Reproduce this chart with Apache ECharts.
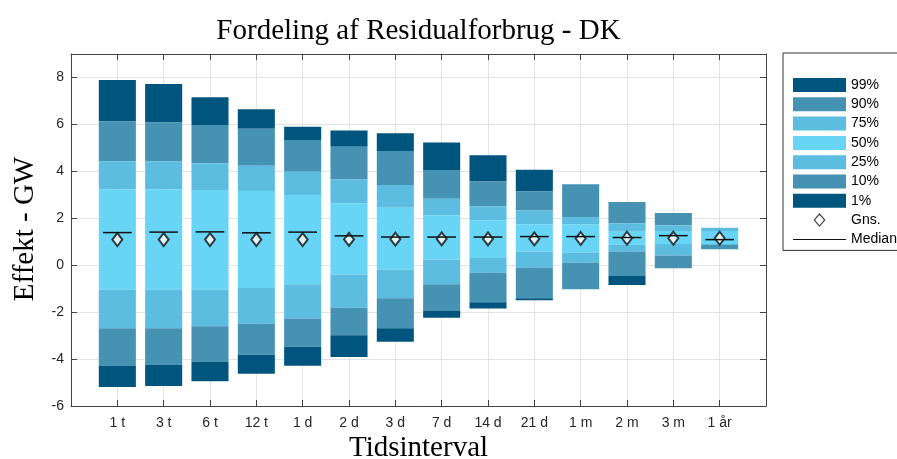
<!DOCTYPE html>
<html>
<head>
<meta charset="utf-8">
<script src="https://cdn.jsdelivr.net/npm/echarts@6/dist/echarts.min.js"></script>
<style>
  html, body { margin: 0; padding: 0; background: #fff; }
  #chart { width: 897px; height: 459px; }
</style>
</head>
<body>
<div id="chart"></div>
<script>
// tidsintervaller
const categories = ['1 t', '3 t', '6 t', '12 t', '1 d', '2 d', '3 d', '7 d', '14 d', '21 d', '1 m', '2 m', '3 m', '1 år'];

// percentil-grænser (GW)
const hi99 = [7.89, 7.72, 7.16, 6.65, 5.90, 5.74, 5.62, 5.23, 4.69, 4.07, 3.45, 2.69, 2.22, 1.60];
const hi90 = [6.13, 6.08, 5.97, 5.81, 5.33, 5.05, 4.87, 4.06, 3.57, 3.14, 3.45, 2.69, 2.22, 1.60];
const hi75 = [4.43, 4.43, 4.34, 4.24, 3.98, 3.65, 3.42, 2.83, 2.50, 2.33, 2.05, 1.79, 1.69, 1.60];
const hi50 = [3.24, 3.24, 3.20, 3.16, 2.99, 2.64, 2.45, 2.13, 1.92, 1.75, 1.73, 1.43, 1.46, 1.46];
const lo50 = [-1.05, -1.05, -1.05, -0.97, -0.81, -0.40, -0.19, 0.24, 0.31, 0.58, 0.54, 0.87, 0.90, 0.90];
const lo25 = [-2.69, -2.69, -2.60, -2.49, -2.27, -1.81, -1.41, -0.81, -0.32, -0.10, 0.10, 0.58, 0.41, 0.86];
const lo10 = [-4.28, -4.24, -4.11, -3.82, -3.48, -2.99, -2.69, -1.93, -1.58, -1.41, -1.02, -0.46, -0.13, 0.68];
const lo1 = [-5.19, -5.15, -4.95, -4.63, -4.28, -3.91, -3.26, -2.24, -1.84, -1.49, -1.02, -0.84, -0.13, 0.68];

const mean = [1.09, 1.09, 1.09, 1.09, 1.09, 1.10, 1.11, 1.12, 1.12, 1.12, 1.14, 1.15, 1.15, 1.15];
const median = [1.39, 1.41, 1.42, 1.38, 1.41, 1.25, 1.20, 1.20, 1.20, 1.22, 1.22, 1.18, 1.26, 1.09];

const yTicks = [-6, -4, -2, 0, 2, 4, 6, 8];

const DARK = '#00557f';
const MID = '#4592b3';
const LIGHT = '#5dbde1';
const LIGHTEST = '#69d5f6';

const BAR_HALF = 0.4;
const MED_HALF = 0.31;

const chart = echarts.init(document.getElementById('chart'), null, { renderer: 'canvas' });

const band = (name, color, lo, hi) => ({
  name: name,
  type: 'custom',
  itemStyle: { color: color },
  encode: { x: 0, y: [1, 2] },
  data: categories.map((c, i) => [i + 1, lo[i], hi[i]]),
  renderItem: (params, api) => {
    const x = api.value(0);
    const p0 = api.coord([x - BAR_HALF, api.value(2)]);
    const p1 = api.coord([x + BAR_HALF, api.value(1)]);
    return {
      type: 'rect',
      shape: { x: p0[0], y: p0[1], width: p1[0] - p0[0], height: p1[1] - p0[1] },
      style: { fill: api.visual('color') }
    };
  },
  z: 2
});

const fontSerif = '"Liberation Serif", "DejaVu Serif", serif';
const fontSans = '"Liberation Sans", Arial, sans-serif';

const options = {
  animation: false,
  grid: { left: 71, top: 54, width: 695, height: 352, show: false },
  graphic: [
    { type: 'text', x: 418.5, y: 17, style: { text: 'Fordeling af Residualforbrug - DK', font: '29px ' + fontSerif, fill: '#000', textAlign: 'center', textVerticalAlign: 'top' } },
    { type: 'text', x: 418.5, y: 434, style: { text: 'Tidsinterval', font: '29px ' + fontSerif, fill: '#000', textAlign: 'center', textVerticalAlign: 'top' } },
    { type: 'text', x: 11, y: 229, rotation: Math.PI / 2, style: { text: 'Effekt - GW', font: '29px ' + fontSerif, fill: '#000', textAlign: 'center', textVerticalAlign: 'top' } }
  ],
  legend: {
    orient: 'vertical',
    left: 783,
    top: 53,
    padding: [25, 60, 4, 10],
    itemWidth: 53,
    itemHeight: 14,
    itemGap: 5.3,
    borderColor: '#333',
    borderWidth: 1,
    textStyle: { fontFamily: fontSans, fontSize: 14, color: '#000' },
    data: [
      { name: '99%', icon: 'rect' },
      { name: '90%', icon: 'rect' },
      { name: '75%', icon: 'rect' },
      { name: '50%', icon: 'rect' },
      { name: '25%', icon: 'rect' },
      { name: '10%', icon: 'rect' },
      { name: '1%', icon: 'rect' },
      { name: 'Gns.', icon: 'path://M6,0 L12,7 L6,14 L0,7 Z M6,1.8 L1.6,7 L6,12.2 L10.4,7 Z' },
      { name: 'Median', icon: 'path://M0,0 L53,0 L53,1 L0,1 Z' }
    ]
  },
  xAxis: [
    {
      type: 'value', min: 0, max: 15, interval: 1,
      axisLine: { show: true, onZero: false, lineStyle: { color: '#444' } },
      axisTick: { show: true, inside: true, length: 6, lineStyle: { color: '#444' } },
      axisLabel: {
        color: '#262626', fontFamily: fontSans, fontSize: 14, margin: 10,
        formatter: v => categories[v - 1] || ''
      },
      splitLine: { show: true, lineStyle: { color: '#e3e3e3' } }
    },
    {
      type: 'value', min: 0, max: 15, interval: 1, position: 'top',
      axisLine: { show: true, onZero: false, lineStyle: { color: '#444' } },
      axisTick: { show: true, inside: true, length: 6, lineStyle: { color: '#444' } },
      axisLabel: { show: false },
      splitLine: { show: false }
    }
  ],
  yAxis: [
    {
      type: 'value', min: -6, max: 9, interval: 2,
      axisLine: { show: true, onZero: false, lineStyle: { color: '#444' } },
      axisTick: { show: true, inside: true, length: 6, lineStyle: { color: '#444' } },
      axisLabel: {
        color: '#262626', fontFamily: fontSans, fontSize: 14, margin: 7,
        formatter: v => (yTicks.indexOf(v) >= 0 ? String(v) : '')
      },
      splitLine: { show: true, lineStyle: { color: '#e3e3e3' } }
    },
    {
      type: 'value', min: -6, max: 9, interval: 2, position: 'right',
      axisLine: { show: true, onZero: false, lineStyle: { color: '#444' } },
      axisTick: { show: true, inside: true, length: 6, lineStyle: { color: '#444' } },
      axisLabel: { show: false },
      splitLine: { show: false }
    }
  ],
  series: [
    band('99%', DARK, hi90, hi99),
    band('90%', MID, hi75, hi90),
    band('75%', LIGHT, hi50, hi75),
    band('50%', LIGHTEST, lo50, hi50),
    band('25%', LIGHT, lo25, lo50),
    band('10%', MID, lo10, lo25),
    band('1%', DARK, lo1, lo10),
    {
      name: 'Gns.',
      type: 'scatter',
      symbol: 'emptyDiamond',
      symbolSize: [10, 13],
      itemStyle: { color: '#111', borderWidth: 1 },
      data: categories.map((c, i) => [i + 1, mean[i]]),
      z: 4
    },
    {
      name: 'Median',
      type: 'custom',
      itemStyle: { color: '#111' },
      encode: { x: 0, y: 1 },
      data: categories.map((c, i) => [i + 1, median[i]]),
      renderItem: (params, api) => {
        const x = api.value(0);
        const a = api.coord([x - MED_HALF, api.value(1)]);
        const b = api.coord([x + MED_HALF, api.value(1)]);
        return {
          type: 'line',
          shape: { x1: a[0], y1: a[1], x2: b[0], y2: b[1] },
          style: { stroke: '#111', lineWidth: 1.5 }
        };
      },
      z: 5
    }
  ]
};

chart.setOption(options);
</script>
</body>
</html>
